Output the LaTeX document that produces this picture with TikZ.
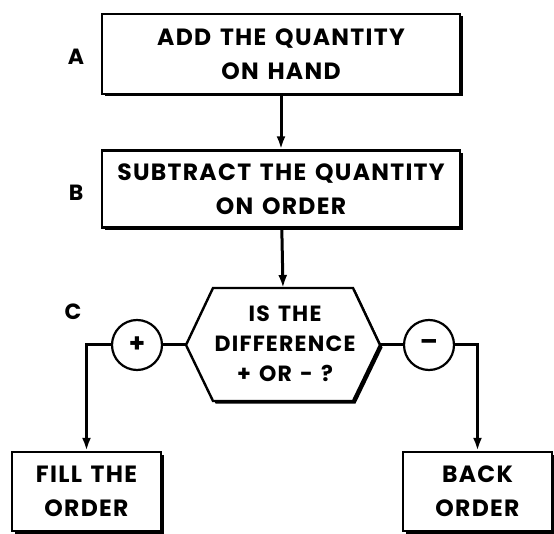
\documentclass[tikz,border=0pt]{standalone}
\usepackage{fontspec}
\setmainfont{Poppins}
\newfontfamily\flowfont{Poppins}[LetterSpace=5.5, WordSpace=1.4]
\usetikzlibrary{shadows,arrows.meta}

\tikzset{
    shade box/.style={drop shadow={shadow xshift=2.5pt, shadow yshift=-2.5pt, opacity=1, fill=black}},
    procbox/.style={draw, line width=2.4pt, fill=white, shade box, align=center, inner sep=0pt,
        font=\flowfont\bfseries\fontsize{23.5}{34}\selectfont},
    signcircle/.style={draw, circle, line width=2.2pt, fill=white, minimum size=50pt, inner sep=0pt,
        font=\fontsize{26}{26}\selectfont\bfseries},
    steplabel/.style={font=\flowfont\bfseries\fontsize{22}{22}\selectfont},
    flow/.style={line width=3pt},
}

\begin{document}
\begin{tikzpicture}[x=1pt, y=-1pt, >={Latex[length=13pt, width=9pt]}]
\useasboundingbox (0,0) rectangle (554,534);
\node[procbox, minimum width=358pt, minimum height=80pt] (add) at (281,54) {ADD THE QUANTITY\\ON HAND};
\node[procbox, minimum width=358pt, minimum height=77pt] (sub) at (281,189) {SUBTRACT THE QUANTITY\\ON ORDER};
\node[steplabel] (labA) at (76,57) {A};
\node[steplabel] (labB) at (76,193) {B};
\node[steplabel] (labC) at (73,312) {C};

% decision hexagon
\coordinate (hexN) at (283,288);
\coordinate (hexW) at (186,345);
\coordinate (hexE) at (380,345);
\draw[line width=2.4pt, fill=white, shade box] (213,288) -- (353,288) -- (hexE) -- (353,401) -- (213,401) -- (hexW) -- cycle;
\node[align=center, font=\flowfont\bfseries\fontsize{22}{30}\selectfont] (diff) at (285,344) {IS THE\\DIFFERENCE\\+ OR - ?};

\node[signcircle] (plus) at (137,345) {+};
\node[signcircle] (minus) at (429,345) {\textendash};

\node[procbox, minimum width=149pt, minimum height=79pt] (fill) at (86.5,491.5) {FILL THE\\ORDER};
\node[procbox, minimum width=149pt, minimum height=79pt] (back) at (477.5,491.5) {BACK\\ORDER};

\draw[flow, ->] (add) -- (sub);
\draw[flow, ->] (sub) -- (hexN);
\draw[flow] (hexW) -- (plus);
\draw[flow, ->] (plus) -| (fill);
\draw[flow] (hexE) -- (minus);
\draw[flow, ->] (minus) -| (back);
\end{tikzpicture}
\end{document}
